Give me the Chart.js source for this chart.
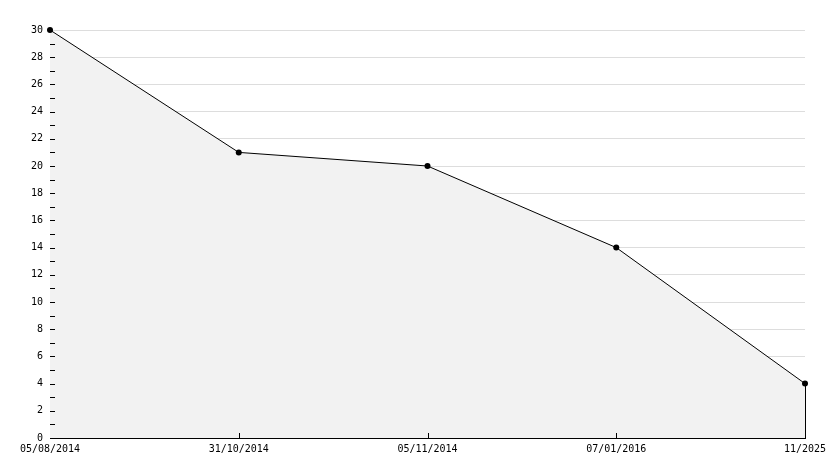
<!DOCTYPE html>
<html>
<head>
<meta charset="utf-8">
<script src="https://cdn.jsdelivr.net/npm/chart.js@4/dist/chart.umd.min.js"></script>
<style>
  html, body { margin: 0; padding: 0; background: #fff; }
  #wrap { width: 834px; height: 468px; }
</style>
</head>
<body>
<div id="wrap"><canvas id="chart" width="834" height="468"></canvas></div>
<script>
const dates = ['05/08/2014', '31/10/2014', '05/11/2014', '07/01/2016', '11/2025'];
const values = [30, 21, 20, 14, 4];
const yMin = 0;
const yMax = 30;
const yStep = 2;

// small ticks drawn inside the plot + closing edge of the filled area
const innerTicks = {
  id: 'innerTicks',
  afterDatasetsDraw(chart) {
    const ctx = chart.ctx;
    const x = chart.scales.x;
    const y = chart.scales.y;
    const area = chart.chartArea;
    ctx.save();
    ctx.strokeStyle = '#000';
    ctx.lineWidth = 1;
    ctx.beginPath();
    for (let v = yMin + 1; v < yMax; v++) {
      const py = Math.round(y.getPixelForValue(v)) + 0.5;
      ctx.moveTo(area.left, py);
      ctx.lineTo(area.left + 5, py);
    }
    for (let i = 1; i < dates.length - 1; i++) {
      const px = Math.round(x.getPixelForValue(i)) + 0.5;
      ctx.moveTo(px, area.bottom);
      ctx.lineTo(px, area.bottom - 5);
    }
    // right edge of the filled polygon
    const last = chart.getDatasetMeta(0).data[values.length - 1];
    const lx = Math.round(last.x) + 0.5;
    ctx.moveTo(lx, last.y);
    ctx.lineTo(lx, y.getPixelForValue(0));
    ctx.stroke();
    ctx.restore();
  }
};

new Chart(document.getElementById('chart'), {
  type: 'line',
  data: {
    labels: dates,
    datasets: [{
      data: values,
      borderColor: '#000',
      borderWidth: 1,
      backgroundColor: '#f2f2f2',
      fill: 'origin',
      tension: 0,
      clip: false,
      pointRadius: 3,
      pointStyle: 'circle',
      pointBackgroundColor: '#000',
      pointBorderColor: '#000',
      pointBorderWidth: 0
    }]
  },
  options: {
    responsive: false,
    animation: false,
    layout: { padding: { left: 0, right: 29, top: 30, bottom: 0 } },
    plugins: {
      legend: { display: false },
      tooltip: { enabled: false }
    },
    scales: {
      x: {
        offset: false,
        grid: { display: false, drawTicks: false },
        border: { display: true, color: '#000', width: 1 },
        ticks: {
          color: '#000',
          font: { family: 'DejaVu Sans Mono', size: 10 },
          padding: 5,
          maxRotation: 0,
          autoSkip: false
        },
        afterFit(scale) { scale.height = 30; }
      },
      y: {
        min: yMin,
        max: yMax,
        grid: { color: '#dddddd', drawTicks: false, lineWidth: 1 },
        border: { display: true, color: '#000', width: 1 },
        ticks: {
          stepSize: yStep,
          color: '#000',
          font: { family: 'DejaVu Sans Mono', size: 10 },
          padding: 7
        },
        afterFit(scale) { scale.width = 50; }
      }
    }
  },
  plugins: [innerTicks]
});
</script>
</body>
</html>
